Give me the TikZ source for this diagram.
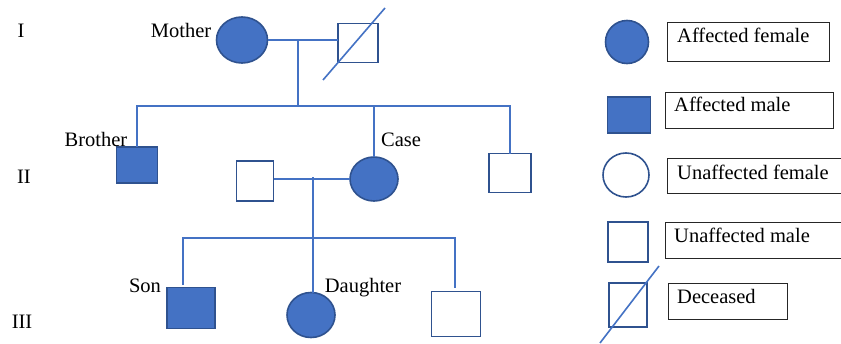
\documentclass[tikz,border=0pt]{standalone}
\usepackage{fontspec}
\setmainfont{Liberation Serif}
\usetikzlibrary{shapes.geometric}
\definecolor{pblue}{HTML}{4472C4}
\definecolor{pdark}{HTML}{2F528F}
\tikzset{
  sym/.style={inner sep=0pt, outer sep=0pt, draw=pdark, line width=1.6pt},
  affF/.style={sym, ellipse, fill=pblue},
  unF/.style={sym, ellipse, fill=white},
  affM/.style={sym, rectangle, fill=pblue},
  unM/.style={sym, rectangle, fill=white},
  conn/.style={draw=pblue, line width=1.6pt},
  lbl/.style={font=\fontsize{20.5}{24}\selectfont, inner sep=0pt, anchor=base},
  legtxt/.style={font=\fontsize{20.5}{24}\selectfont, inner sep=0pt, anchor=base west},
  legbox/.style={draw=black!85, line width=1pt, rectangle, inner sep=0pt, anchor=north west},
}
\begin{document}
\begin{tikzpicture}[x=1pt,y=-1pt]
\clip (0,0) rectangle (841,343);
\fill[white] (0,0) rectangle (841,343);

% generation labels
\node[lbl] (gI) at (21,37) {I};
\node[lbl] (gII) at (24,183) {II};
\node[lbl] (gIII) at (22,328) {III};

% generation I
\node[affF, minimum width=51pt, minimum height=46pt] (mother) at (242,40) {};
\node[unM, minimum width=40pt, minimum height=39pt] (father) at (358,43) {};
\coordinate (fd1) at (323,80);
\coordinate (fd2) at (385,8);
\draw[conn] (fd1) -- (fd2);
\node[lbl] (tmother) at (181,37) {Mother};
\draw[conn] (mother.east) -- (mother.east -| father.west);
\coordinate (m1) at (298,40);
\coordinate (s1) at (298,106);
\draw[conn] (m1) -- (s1);

% generation II
\node[affM, minimum width=41pt, minimum height=36pt] (brother) at (137,165) {};
\node[affF, minimum width=48pt, minimum height=44pt] (case) at (374,179) {};
\node[unM, minimum width=37pt, minimum height=40pt] (husband) at (255,181) {};
\node[unM, minimum width=42pt, minimum height=39pt] (sib3) at (510,173) {};
\node[lbl] (tbrother) at (96,146) {Brother};
\node[lbl] (tcase) at (401,146) {Case};
\coordinate (sibL) at (137,106);
\coordinate (sibR) at (510,106);
\draw[conn] (brother.north) -- (sibL) -- (sibR) -- (sib3.north);
\draw[conn] (s1 -| case.north) -- (case.north);
\draw[conn] (husband.east |- case.west) -- (case.west);

% generation III
\node[affM, minimum width=48pt, minimum height=41pt] (son) at (191,308) {};
\node[affF, minimum width=48pt, minimum height=45pt] (daughter) at (311,315) {};
\node[unM, minimum width=49pt, minimum height=45pt] (son2) at (456,314) {};
\node[lbl] (tson) at (145,292) {Son};
\node[lbl] (tdaughter) at (363,292) {Daughter};
\coordinate (m2) at (313,177);
\coordinate (sib2L) at (183,238);
\coordinate (sib2R) at (455,238);
\coordinate (son2top) at (455,288);
\coordinate (sontop) at (183,285);
\draw[conn] (m2) -- (m2 |- daughter.north);
\draw[conn] (sontop) -- (sib2L) -- (sib2R) -- (son2top);

% legend
\node[affF, minimum width=43pt, minimum height=43pt] (lg1) at (627,42) {};
\node[legbox, minimum width=162pt, minimum height=39pt] (lb1) at (667,22) {};
\node[legtxt] (lt1) at (677,42) {Affected female};

\node[affM, minimum width=43pt, minimum height=36pt] (lg2) at (629,115) {};
\node[legbox, minimum width=168pt, minimum height=36pt] (lb2) at (665,92) {};
\node[legtxt] (lt2) at (674,111) {Affected male};

\node[unF, minimum width=46pt, minimum height=44pt] (lg3) at (626,175) {};
\node[legbox, minimum width=190pt, minimum height=35pt] (lb3) at (667,158) {};
\node[legtxt] (lt3) at (677,179) {Unaffected female};

\node[unM, minimum width=40pt, minimum height=40pt] (lg4) at (628,242) {};
\node[legbox, minimum width=190pt, minimum height=36pt] (lb4) at (665,222) {};
\node[legtxt] (lt4) at (674,242) {Unaffected male};

\node[unM, minimum width=38pt, minimum height=44pt] (lg5) at (628,305) {};
\coordinate (ld1) at (600,343);
\coordinate (ld2) at (659,266);
\draw[conn] (ld1) -- (ld2);
\node[legbox, minimum width=119pt, minimum height=36pt] (lb5) at (668,283) {};
\node[legtxt] (lt5) at (677,303) {Deceased};
\end{tikzpicture}
\end{document}
